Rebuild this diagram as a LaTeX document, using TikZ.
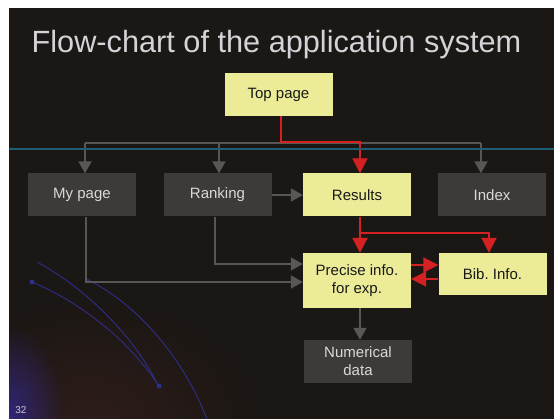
\documentclass[tikz,border=0pt]{standalone}
\usepackage{fontspec}
\setmainfont{Liberation Sans}
\usetikzlibrary{arrows.meta, fadings}

\definecolor{slidebg}{HTML}{1B1714}
\definecolor{boxyellow}{HTML}{ECEC98}
\definecolor{boxgray}{HTML}{3E3A38}
\definecolor{linkgray}{HTML}{5A5654}
\definecolor{linkred}{HTML}{D42222}
\definecolor{titlegray}{HTML}{D4D4D8}
\definecolor{scanline}{HTML}{1E5E70}
\definecolor{arcblue}{HTML}{2E2E8C}
\definecolor{glow}{HTML}{34288A}
\definecolor{haze}{HTML}{2E1D1A}
\definecolor{numgray}{HTML}{C8C8DC}

\tikzfading[name=softblob, inner color=transparent!0, outer color=transparent!100]

\frenchspacing
\begin{document}
\begin{tikzpicture}[x=1pt,y=-1pt,
  box/.style={minimum width=108pt, minimum height=43pt, inner sep=0pt,
    align=center, font=\fontsize{15}{18}\selectfont},
  hot/.style={box, fill=boxyellow, text=black!90},
  cold/.style={box, fill=boxgray, text=black!15},
  redlink/.style={draw=linkred, line width=2pt,
    -{Triangle[length=15pt,width=15pt]}},
  graylink/.style={draw=linkgray, line width=2pt,
    -{Triangle[length=12pt,width=13pt]}},
  arc/.style={draw=arcblue, line width=0.9pt},
]
\useasboundingbox (0,0) rectangle (554,419);

% paper margin and slide background
\fill[white] (0,0) rectangle (554,419);
\fill[slidebg] (9,8) rectangle (554,419);
\begin{scope}
  \clip (9,8) rectangle (554,419);
  \fill[haze, path fading=softblob] (90,419) ellipse (170 and 120);
  \fill[glow, path fading=softblob, opacity=0.85] (9,419) ellipse (55 and 95);
\end{scope}

% decorative arcs in the lower left corner
\draw[arc] (37,262) .. controls (80,285) and (130,330) .. (157,383);
\draw[arc] (32,282) .. controls (75,300) and (125,335) .. (159,386);
\draw[arc] (88,280) .. controls (130,300) and (180,350) .. (207,419);
\fill[arcblue] (32,282) circle (2.5) (159,386) circle (2.5) (88,281) circle (2);

% title
\node[anchor=base, text=titlegray, font=\fontsize{30.7}{36}\selectfont]
  (title) at (276.5,53) {Flow-chart of the application system};

% pages
\node[hot]  (top)     at (278.5,94.5) {Top page};
\node[cold] (mypage)  at (82,195)     {My page};
\node[cold] (ranking) at (217.5,195)  {Ranking};
\node[hot]  (results) at (357,195)    {Results};
\node[cold] (index)   at (492,195)    {Index};
\node[hot, minimum height=55pt] (precise) at (357,280.5) {Precise info.\\for exp.};
\node[hot, minimum height=42pt] (bib)     at (492.5,274) {Bib. Info.};
\node[cold] (num)     at (358,361.5)  {Numerical\\data};

% junction points of the connectors
\coordinate (jL)     at (85,143);
\coordinate (jRank)  at (219,143);
\coordinate (jR)     at (481,143);
\coordinate (jRes)   at (360,142);
\coordinate (jSplit) at (360,233);
\coordinate (jBib)   at (489,233);
\coordinate (yHi)    at (0,265);
\coordinate (yLo)    at (0,279);
\coordinate (yRank)  at (215,264);
\coordinate (yMy)    at (86,282);

% grey links
\draw[linkgray, line width=2pt] (jL) -- (jR);
\draw[graylink] (jL) -- (jL |- mypage.north);
\draw[graylink] (jRank) -- (jRank |- ranking.north);
\draw[graylink] (jR) -- (jR |- index.north);
\draw[graylink] (ranking.east) -- (results.west);
\draw[graylink] (yRank |- ranking.south) -- (yRank) -- (yRank -| precise.west);
\draw[graylink] (yMy |- mypage.south) -- (yMy) -- (yMy -| precise.west);
\draw[graylink] (jSplit |- precise.south) -- (jSplit |- num.north);

% red links
\draw[redlink] ([xshift=2.5pt]top.south) |- (jRes) -- (jRes |- results.north);
\draw[redlink] (jSplit |- results.south) -- (jSplit |- precise.north);
\draw[redlink] (jSplit) -- (jBib) -- (jBib |- bib.north);
\draw[redlink] (precise.east |- yHi) -- (bib.west |- yHi);
\draw[redlink] (bib.west |- yLo) -- (precise.east |- yLo);

% scan line across the slide
\draw[scanline, line width=1.2pt] (9,149) -- (554,149);

% slide number
\node[text=numgray, font=\fontsize{10}{11}\selectfont] (pagenum) at (21,410) {32};
\end{tikzpicture}
\end{document}
